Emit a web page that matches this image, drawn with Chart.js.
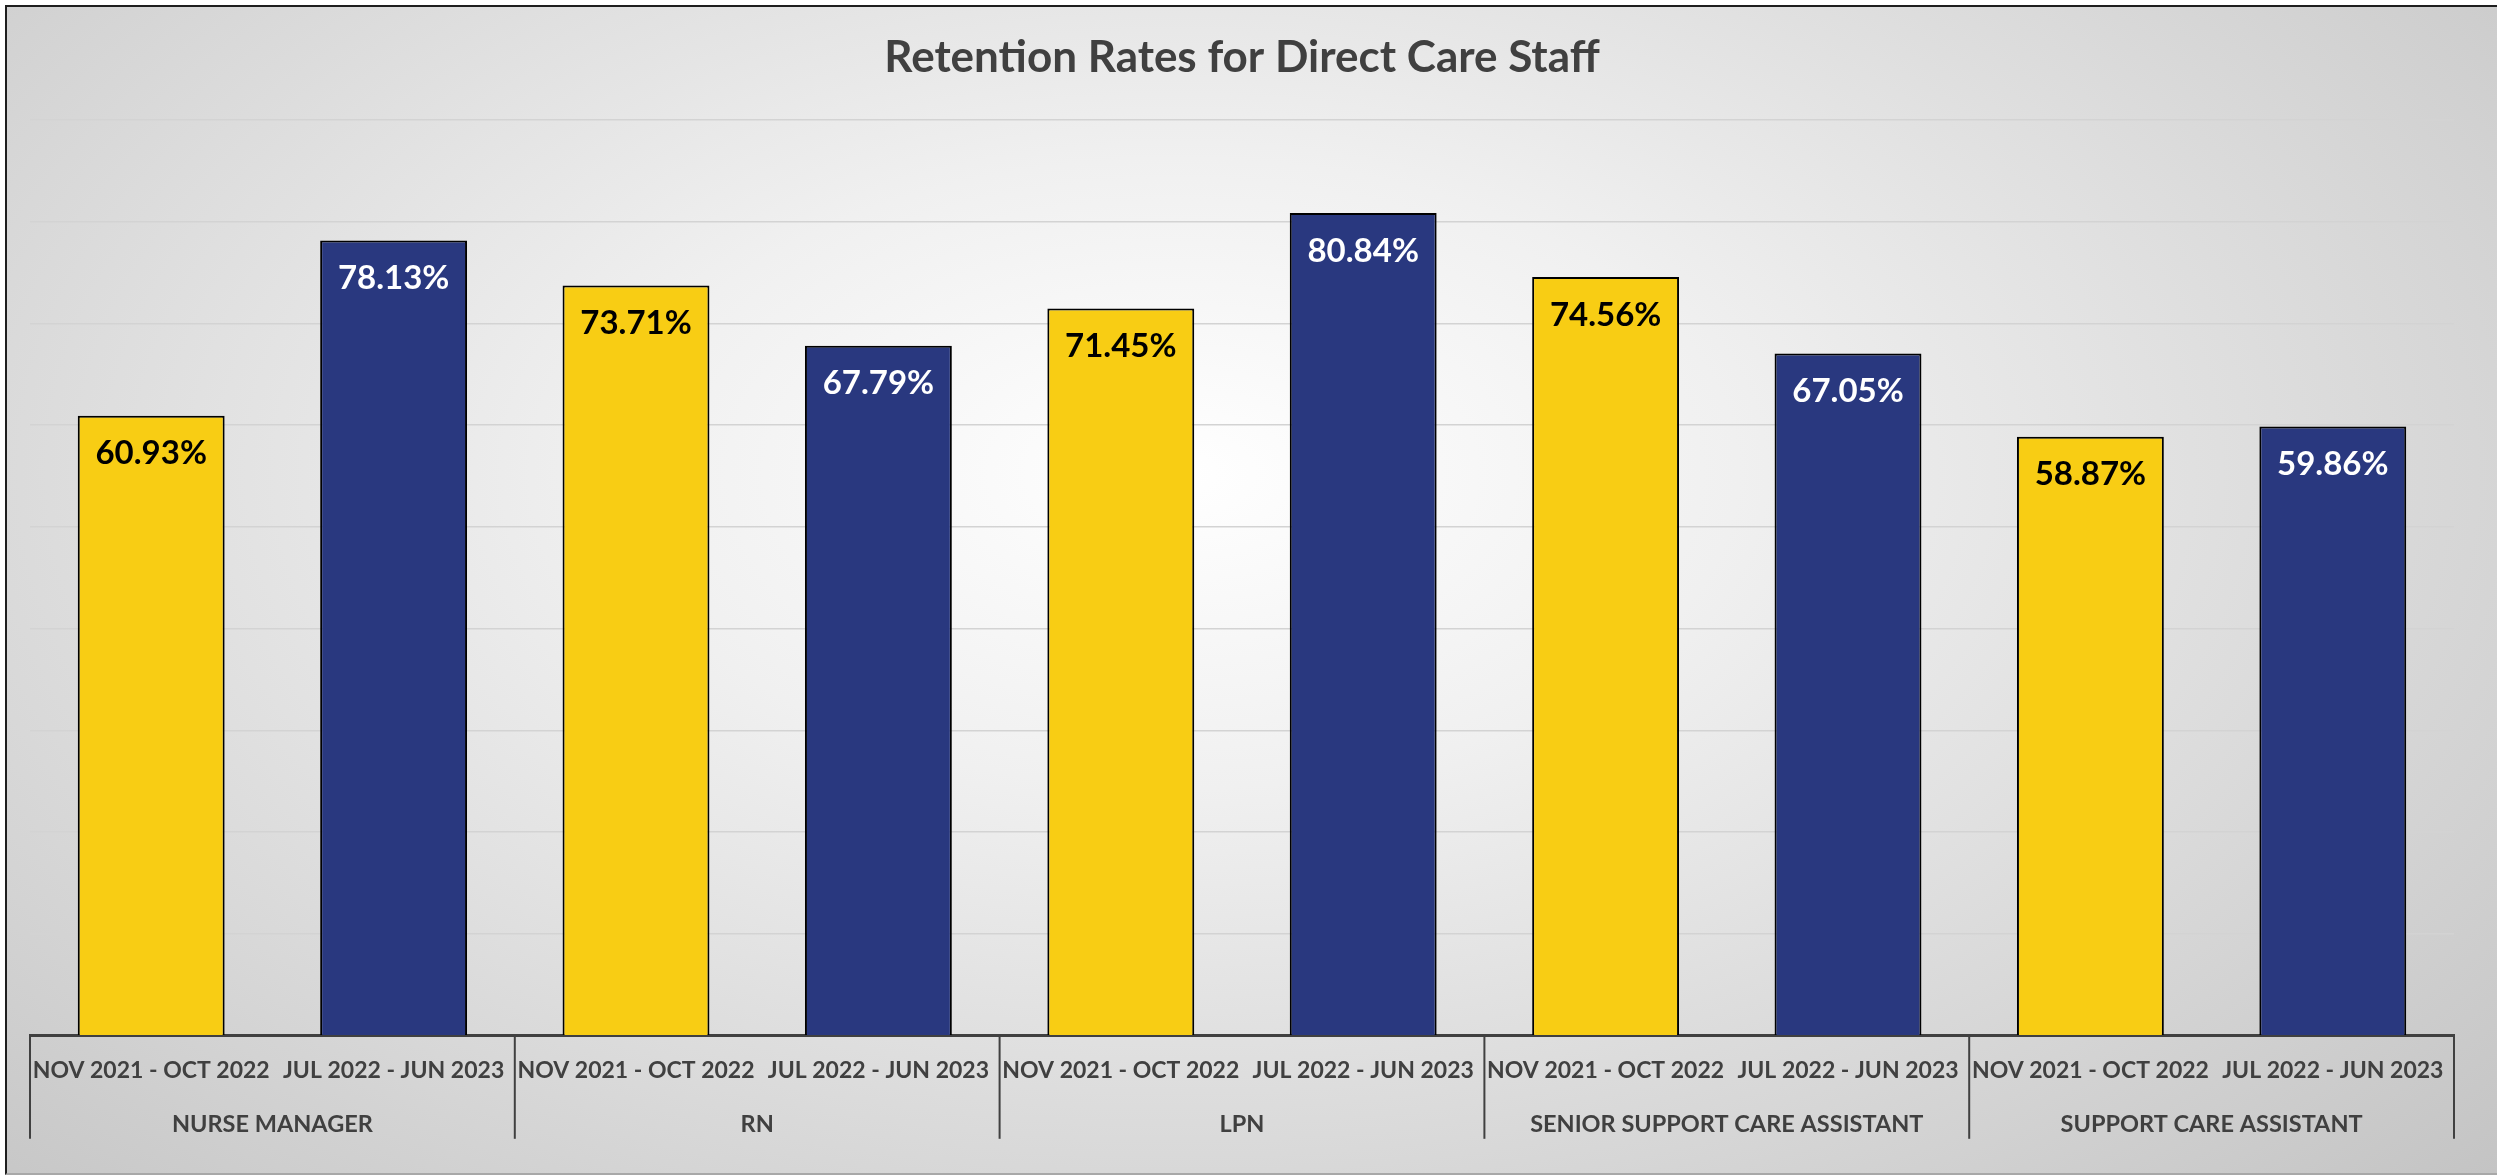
<!DOCTYPE html>
<html>
<head>
<meta charset="utf-8">
<script src="https://cdn.jsdelivr.net/npm/chart.js@4.4.0/dist/chart.umd.min.js"></script>
<style>
  body { margin: 0; background: #fff; overflow: hidden; }
  #frame {
    position: absolute; left: 5px; top: 5px;
    width: 2490px; height: 1166px;
    border-top: 2px solid #1e1e1e; border-left: 2px solid #1e1e1e;
    border-bottom: 2px solid #a8a8a8;
    background: radial-gradient(ellipse 75% 90% at 47% 40%, #ffffff 0%, #f0f0f0 30%, #c2c2c2 100%);
  }
  #chart { display: block; }
</style>
</head>
<body>
<div id="frame"><canvas id="chart" width="2490" height="1166"></canvas></div>
<script>
// categories and series
var roles = ["NURSE MANAGER", "RN", "LPN", "SENIOR SUPPORT CARE ASSISTANT", "SUPPORT CARE ASSISTANT"];
var periods = ["NOV 2021 - OCT 2022", "JUL 2022 - JUN 2023"];
var novOct = [60.93, 73.71, 71.45, 74.56, 58.87];
var julJun = [78.13, 67.79, 80.84, 67.05, 59.86];

var labelColors = ["#000000", "#ffffff"];

// value labels inside top of bars
var valueLabels = {
  id: "valueLabels",
  afterDatasetsDraw: function(chart) {
    var ctx = chart.ctx;
    ctx.save();
    ctx.font = "bold 33px Lato";
    ctx.textAlign = "center";
    ctx.textBaseline = "middle";
    chart.data.datasets.forEach(function(ds, di) {
      var meta = chart.getDatasetMeta(di);
      ctx.fillStyle = labelColors[di];
      meta.data.forEach(function(bar, i) {
        ctx.fillText(ds.data[i].toFixed(2) + "%", bar.x, bar.y + 38);
      });
    });
    ctx.restore();
  }
};

// period labels under each bar + group dividers
var periodLabels = {
  id: "periodLabels",
  afterDraw: function(chart) {
    var ctx = chart.ctx;
    var xs = chart.scales.x;
    var bottom = chart.chartArea.bottom;
    var half = (xs.getPixelForValue(1) - xs.getPixelForValue(0)) / 2;
    ctx.save();
    ctx.strokeStyle = "#404040";
    ctx.lineWidth = 2;
    for (var i = 0; i <= roles.length; i++) {
      var left = xs.getPixelForValue(0) - half + i * half * 2;
      ctx.beginPath();
      ctx.moveTo(left, bottom);
      ctx.lineTo(left, bottom + 103);
      ctx.stroke();
    }

    ctx.font = "bold 23px Lato";
    ctx.fillStyle = "#404040";
    ctx.textAlign = "center";
    ctx.textBaseline = "middle";
    chart.data.datasets.forEach(function(ds, di) {
      var meta = chart.getDatasetMeta(di);
      meta.data.forEach(function(bar) {
        ctx.fillText(periods[di], bar.x, bottom + 35);
      });
    });
    ctx.restore();
  }
};

new Chart("chart", {
  type: "bar",
  data: {
    labels: roles,
    datasets: [
      {
        label: periods[0],
        data: novOct,
        backgroundColor: "#f8cd14",
        borderColor: "#000000",
        borderWidth: 2
      },
      {
        label: periods[1],
        data: julJun,
        backgroundColor: "#29387f",
        borderColor: "#000000",
        borderWidth: 2
      }
    ]
  },
  options: {
    responsive: false,
    animation: false,
    barPercentage: 0.606,
    categoryPercentage: 1,
    layout: { padding: { left: 23, right: 43, top: 0, bottom: -33 } },
    plugins: {
      legend: { display: false },
      tooltip: { enabled: false },
      title: {
        display: true,
        text: "Retention Rates for Direct Care Staff",
        color: "#404040",
        font: { family: "Lato", size: 44, weight: "bold" },
        padding: { top: 24, bottom: 36 }
      }
    },
    scales: {
      x: {
        grid: { display: false },
        border: { display: true, color: "#404040", width: 3 },
        ticks: {
          padding: 67,
          maxRotation: 0,
          autoSkip: false,
          color: "#404040",
          font: { family: "Lato", size: 23.5, weight: "bold" }
        }
      },
      y: {
        min: 0,
        max: 90,
        ticks: { display: false, stepSize: 10 },
        grid: { color: "#d3d3d3", lineWidth: 1.5, drawTicks: false },
        border: { display: false }
      }
    }
  },
  plugins: [valueLabels, periodLabels]
});
</script>
</body>
</html>
